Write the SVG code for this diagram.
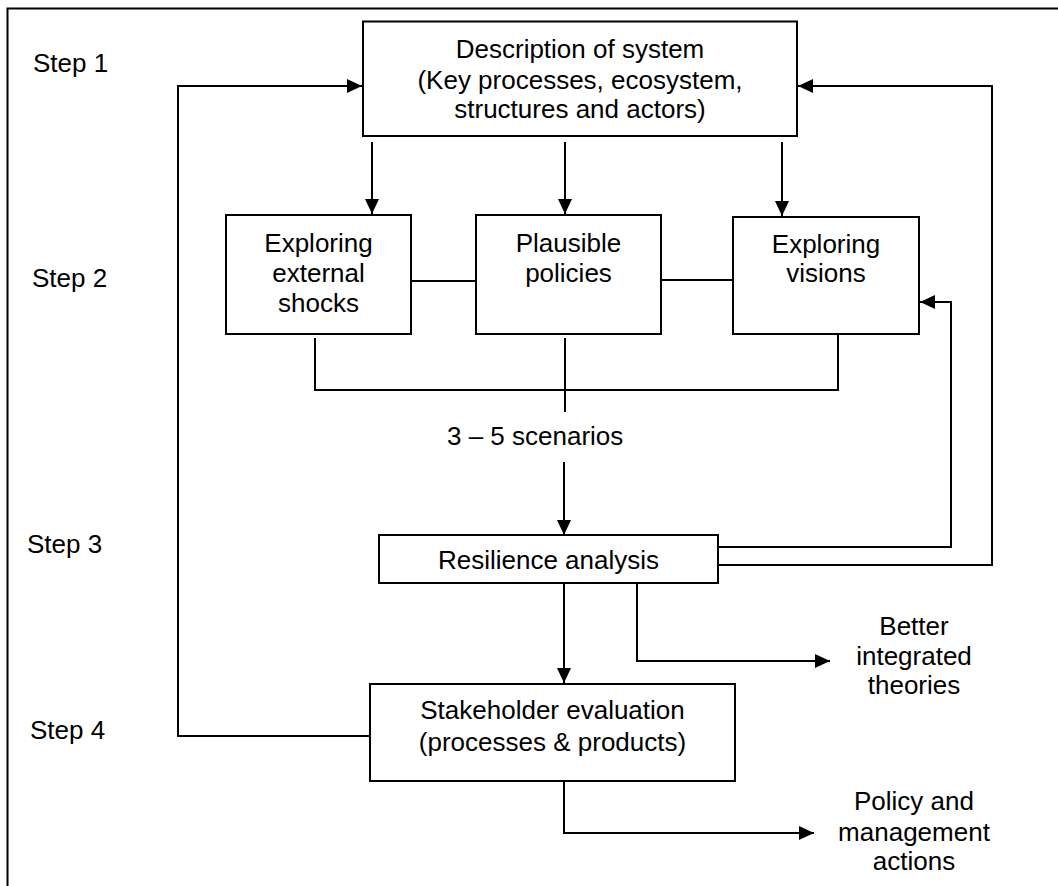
<svg xmlns="http://www.w3.org/2000/svg" width="1058" height="886" viewBox="0 0 1058 886">
  <style>
    .box { fill: #fff; stroke: #000; stroke-width: 2; }
    .wire { fill: none; stroke: #000; stroke-width: 2; }
    .lbl { font-family: "Liberation Sans", Arial, sans-serif; font-size: 26px; fill: #000; }
    .c { text-anchor: middle; }
  </style>
  <defs>
    <marker id="head" viewBox="0 0 15 14" refX="15" refY="7" markerWidth="15" markerHeight="14" markerUnits="userSpaceOnUse" orient="auto">
      <path d="M0,0 L15,7 L0,14 Z" fill="#000"/>
    </marker>
  </defs>
  <rect width="1058" height="886" fill="#fff"/>

  <!-- outer frame (top and left edges) -->
  <path class="wire" d="M7.5,886 V8.5 H1058"/>

  <!-- step labels -->
  <g id="steps">
    <text class="lbl" x="33" y="72">Step 1</text>
    <text class="lbl" x="32" y="287">Step 2</text>
    <text class="lbl" x="27" y="553">Step 3</text>
    <text class="lbl" x="30" y="739">Step 4</text>
  </g>

  <!-- connectors -->
  <g id="connectors">
    <!-- system description to the three exploration boxes -->
    <path class="wire" d="M372,142 V214" marker-end="url(#head)"/>
    <path class="wire" d="M565,142 V214" marker-end="url(#head)"/>
    <path class="wire" d="M782,142 V216" marker-end="url(#head)"/>
    <!-- links between step 2 boxes -->
    <path class="wire" d="M411,281 H476"/>
    <path class="wire" d="M661,280 H733"/>
    <!-- merge into scenarios -->
    <path class="wire" d="M315,338 V390 H838 V335"/>
    <path class="wire" d="M565,338 V412"/>
    <!-- scenarios to resilience analysis -->
    <path class="wire" d="M564,462 V535" marker-end="url(#head)"/>
    <!-- resilience analysis to stakeholder evaluation -->
    <path class="wire" d="M564,583 V683" marker-end="url(#head)"/>
    <!-- feedback loops -->
    <path class="wire" d="M718,547 H951 V302 H920" marker-end="url(#head)"/>
    <path class="wire" d="M718,565 H992 V86 H798" marker-end="url(#head)"/>
    <path class="wire" d="M370,736 H178 V86 H362" marker-end="url(#head)"/>
    <!-- outputs -->
    <path class="wire" d="M637,583 V661 H830" marker-end="url(#head)"/>
    <path class="wire" d="M564,781 V833 H814" marker-end="url(#head)"/>
  </g>

  <g id="system">
    <rect class="box" x="363" y="21.5" width="434" height="114.5"/>
    <text class="lbl c" x="580" y="58">Description of system</text>
    <text class="lbl c" x="580" y="89">(Key processes, ecosystem,</text>
    <text class="lbl c" x="580" y="118">structures and actors)</text>
  </g>

  <g id="shocks">
    <rect class="box" x="226" y="215" width="185" height="119"/>
    <text class="lbl c" x="318.5" y="252">Exploring</text>
    <text class="lbl c" x="318.5" y="282">external</text>
    <text class="lbl c" x="318.5" y="312">shocks</text>
  </g>

  <g id="policies">
    <rect class="box" x="476" y="215" width="185" height="119"/>
    <text class="lbl c" x="568.5" y="252">Plausible</text>
    <text class="lbl c" x="568.5" y="282">policies</text>
  </g>

  <g id="visions">
    <rect class="box" x="733" y="217" width="186" height="117"/>
    <text class="lbl c" x="826" y="253">Exploring</text>
    <text class="lbl c" x="826" y="282">visions</text>
  </g>

  <g id="scenarios">
    <text class="lbl" x="447" y="445">3 – 5 scenarios</text>
  </g>

  <g id="resilience">
    <rect class="box" x="379" y="535" width="339" height="48"/>
    <text class="lbl c" x="548.5" y="569">Resilience analysis</text>
  </g>

  <g id="stakeholder">
    <rect class="box" x="370" y="684" width="365" height="97"/>
    <text class="lbl c" x="552.5" y="719">Stakeholder evaluation</text>
    <text class="lbl c" x="552.5" y="751">(processes &amp; products)</text>
  </g>

  <g id="theories">
    <text class="lbl c" x="914" y="635">Better</text>
    <text class="lbl c" x="914" y="665">integrated</text>
    <text class="lbl c" x="914" y="694">theories</text>
  </g>

  <g id="actions">
    <text class="lbl c" x="914" y="810">Policy and</text>
    <text class="lbl c" x="914" y="841">management</text>
    <text class="lbl c" x="914" y="870">actions</text>
  </g>
</svg>
